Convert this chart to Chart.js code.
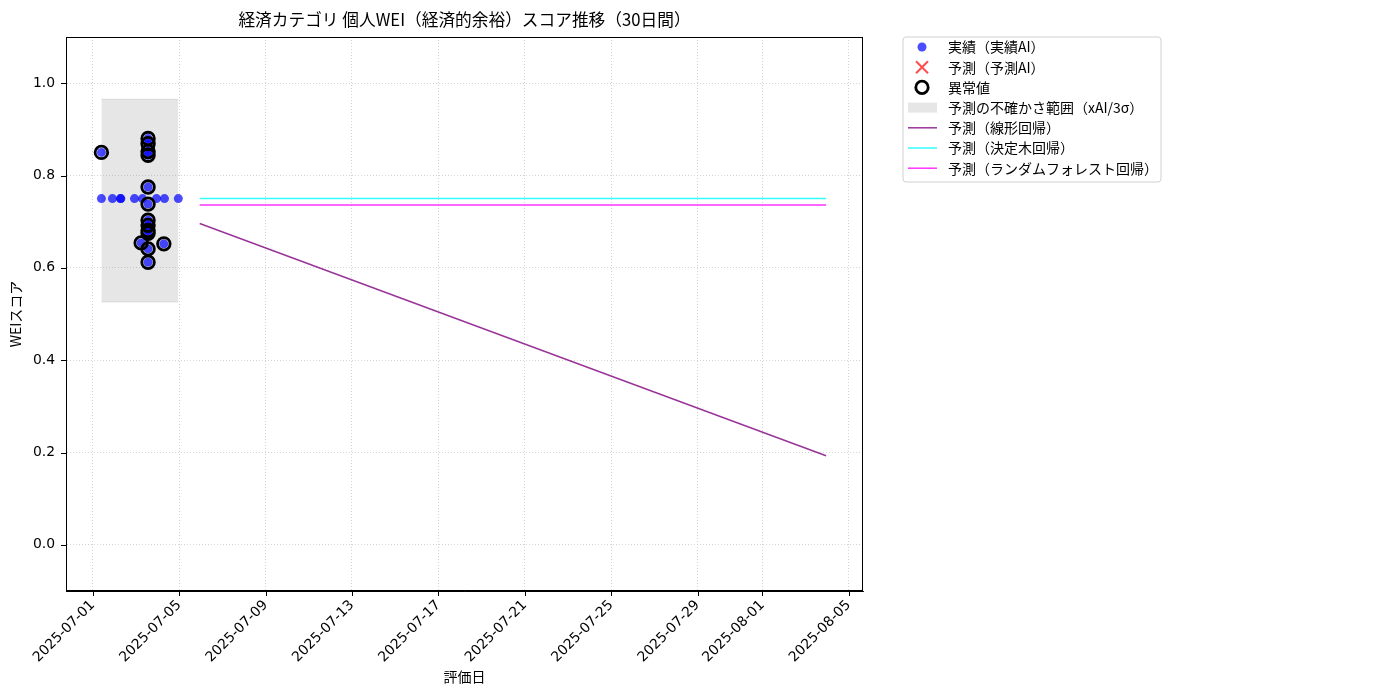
<!DOCTYPE html>
<html>
<head>
<meta charset="utf-8">
<script src="https://cdn.jsdelivr.net/npm/chart.js@4.4.0/dist/chart.umd.min.js"></script>
<style>
  html, body { margin: 0; padding: 0; background: #fff; }
</style>
</head>
<body>
<canvas id="wei-chart" width="1400" height="700"></canvas>
<script>
const FONT = '"Noto Sans CJK JP", "Noto Sans", sans-serif';
const TICK_FONT = '"DejaVu Sans", "Noto Sans CJK JP", sans-serif';

// x values are days counted from 2025-07-01 00:00
const baseDate = '2025-07-01';
const xTickLabels = ['2025-07-01', '2025-07-05', '2025-07-09', '2025-07-13', '2025-07-17',
                     '2025-07-21', '2025-07-25', '2025-07-29', '2025-08-01', '2025-08-05'];
const yTicks = [0.0, 0.2, 0.4, 0.6, 0.8, 1.0];

// 実績
const actualX = [0.40, 0.91, 1.28, 1.30, 1.93, 2.30, 2.95, 3.32, 3.96,
                 0.40, 2.56, 2.56, 2.56, 2.56, 2.56, 2.56, 2.56, 2.56, 2.56, 2.56, 2.24, 2.56, 3.29, 2.56];
const actualY = [0.75, 0.75, 0.75, 0.75, 0.75, 0.75, 0.75, 0.75, 0.75,
                 0.850, 0.880, 0.869, 0.852, 0.844, 0.775, 0.738, 0.703, 0.692, 0.681, 0.675, 0.654, 0.641, 0.652, 0.612];

// 異常値
const anomalyX = [0.40, 2.56, 2.56, 2.56, 2.56, 2.56, 2.56, 2.56, 2.56, 2.56, 2.56, 2.24, 2.56, 3.29, 2.56];
const anomalyY = [0.850, 0.880, 0.869, 0.852, 0.844, 0.775, 0.738, 0.703, 0.692, 0.681, 0.675, 0.654, 0.641, 0.652, 0.612];

// 予測AI (no points in this period)
const predX = [];
const predY = [];

// 不確かさ範囲
const bandX = [0.40, 3.96];
const bandUpper = [0.965, 0.965];
const bandLower = [0.526, 0.526];

// 予測ライン
const forecastX = [4.95, 33.95];
const linearY = [0.696, 0.193];
const treeY = [0.750, 0.750];
const forestY = [0.736, 0.736];

const dayOf = s => (Date.parse(s) - Date.parse(baseDate)) / 86400000;
const pts = (xs, ys) => xs.map((x, i) => ({ x: x, y: ys[i] }));

const legendItems = [
  { text: '実績（実績AI）', kind: 'dot', color: 'rgba(0,0,255,0.7)' },
  { text: '予測（予測AI）', kind: 'cross', color: 'rgba(255,0,0,0.7)' },
  { text: '異常値', kind: 'ring', color: '#000' },
  { text: '予測の不確かさ範囲（xAI/3σ）', kind: 'patch', color: 'rgba(128,128,128,0.2)' },
  { text: '予測（線形回帰）', kind: 'line', color: 'rgba(128,0,128,0.8)' },
  { text: '予測（決定木回帰）', kind: 'line', color: 'rgba(0,255,255,0.8)' },
  { text: '予測（ランダムフォレスト回帰）', kind: 'line', color: 'rgba(255,0,255,0.8)' }
];

const mplLook = {
  id: 'mplLook',
  afterDraw(chart) {
    const ctx = chart.ctx;
    const a = chart.chartArea;
    const xs = chart.scales.x, ys = chart.scales.y;
    ctx.save();
    // frame
    ctx.strokeStyle = '#000';
    ctx.lineWidth = 1;
    ctx.strokeRect(a.left + 0.5, a.top + 0.5, a.right - a.left - 1, a.bottom - a.top - 1);
    // tick marks
    ctx.beginPath();
    xs.ticks.forEach(t => {
      const px = Math.round(xs.getPixelForValue(t.value)) + 0.5;
      ctx.moveTo(px, a.bottom); ctx.lineTo(px, a.bottom + 5);
    });
    ys.ticks.forEach(t => {
      const py = Math.round(ys.getPixelForValue(t.value)) + 0.5;
      ctx.moveTo(a.left, py); ctx.lineTo(a.left - 5, py);
    });
    ctx.stroke();
    // title
    ctx.fillStyle = '#000';
    ctx.font = '16.7px ' + FONT;
    ctx.textAlign = 'center';
    ctx.textBaseline = 'middle';
    ctx.fillText('経済カテゴリ 個人WEI（経済的余裕）スコア推移（30日間）', (a.left + a.right) / 2, 20);
    // legend
    const lx = 903, ly = 37, lw = 258, lh = 145, r = 3;
    ctx.beginPath();
    ctx.moveTo(lx + r, ly);
    ctx.arcTo(lx + lw, ly, lx + lw, ly + lh, r);
    ctx.arcTo(lx + lw, ly + lh, lx, ly + lh, r);
    ctx.arcTo(lx, ly + lh, lx, ly, r);
    ctx.arcTo(lx, ly, lx + lw, ly, r);
    ctx.closePath();
    ctx.fillStyle = 'rgba(255,255,255,0.8)';
    ctx.fill();
    ctx.strokeStyle = '#d0d0d0';
    ctx.stroke();
    ctx.font = '14px ' + FONT;
    ctx.textAlign = 'left';
    legendItems.forEach((it, i) => {
      const cy = 47 + i * 20.2;
      const mx = 922;
      if (it.kind === 'dot') {
        ctx.beginPath(); ctx.arc(mx, cy, 4.5, 0, Math.PI * 2);
        ctx.fillStyle = it.color; ctx.fill();
      } else if (it.kind === 'cross') {
        ctx.beginPath();
        ctx.moveTo(mx - 6, cy - 6); ctx.lineTo(mx + 6, cy + 6);
        ctx.moveTo(mx + 6, cy - 6); ctx.lineTo(mx - 6, cy + 6);
        ctx.strokeStyle = it.color; ctx.lineWidth = 2; ctx.stroke();
      } else if (it.kind === 'ring') {
        ctx.beginPath(); ctx.arc(mx, cy, 6.2, 0, Math.PI * 2);
        ctx.strokeStyle = it.color; ctx.lineWidth = 2.8; ctx.stroke();
      } else if (it.kind === 'patch') {
        ctx.fillStyle = it.color; ctx.fillRect(908, cy - 5, 29, 10);
      } else {
        ctx.beginPath(); ctx.moveTo(908, cy); ctx.lineTo(937, cy);
        ctx.strokeStyle = it.color; ctx.lineWidth = 1.5; ctx.stroke();
      }
      ctx.fillStyle = '#000';
      ctx.fillText(it.text, 948, cy);
    });
    ctx.restore();
  }
};

new Chart(document.getElementById('wei-chart'), {
  type: 'scatter',
  data: {
    datasets: [
      {
        label: '異常値',
        data: pts(anomalyX, anomalyY),
        pointStyle: 'circle',
        pointRadius: 6.3,
        pointBorderWidth: 2.8,
        pointBackgroundColor: 'rgba(0,0,0,0)',
        pointBorderColor: '#000',
        order: 0
      },
      {
        label: '実績（実績AI）',
        data: pts(actualX, actualY),
        pointRadius: 4.5,
        pointBorderWidth: 0,
        pointBackgroundColor: 'rgba(0,0,255,0.7)',
        order: 1
      },
      {
        label: '予測（予測AI）',
        data: pts(predX, predY),
        pointStyle: 'crossRot',
        pointRadius: 6,
        pointBorderColor: 'rgba(255,0,0,0.7)',
        order: 1
      },
      {
        label: '予測（線形回帰）',
        data: pts(forecastX, linearY),
        showLine: true,
        borderColor: 'rgba(128,0,128,0.8)',
        borderWidth: 1.5,
        pointRadius: 0,
        order: 2
      },
      {
        label: '予測（決定木回帰）',
        data: pts(forecastX, treeY),
        showLine: true,
        borderColor: 'rgba(0,255,255,0.8)',
        borderWidth: 1.5,
        pointRadius: 0,
        order: 2
      },
      {
        label: '予測（ランダムフォレスト回帰）',
        data: pts(forecastX, forestY),
        showLine: true,
        borderColor: 'rgba(255,0,255,0.8)',
        borderWidth: 1.5,
        pointRadius: 0,
        order: 2
      },
      {
        label: 'band upper',
        data: pts(bandX, bandUpper),
        showLine: true,
        borderColor: 'rgba(128,128,128,0.2)',
        borderWidth: 1,
        pointRadius: 0,
        order: 3
      },
      {
        label: '予測の不確かさ範囲（xAI/3σ）',
        data: pts(bandX, bandLower),
        showLine: true,
        borderColor: 'rgba(128,128,128,0.2)',
        borderWidth: 1,
        backgroundColor: 'rgba(128,128,128,0.2)',
        fill: '-1',
        pointRadius: 0,
        order: 3
      }
    ]
  },
  plugins: [mplLook],
  options: {
    responsive: false,
    animation: false,
    devicePixelRatio: 1,
    layout: { padding: { left: 0, right: 537, top: 37, bottom: 12 } },
    plugins: {
      legend: { display: false },
      tooltip: { enabled: false },
      title: { display: false }
    },
    scales: {
      x: {
        type: 'linear',
        min: -1.24,
        max: 35.66,
        afterBuildTicks: s => { s.ticks = xTickLabels.map(l => ({ value: dayOf(l) })); },
        afterFit: s => { s.height = 97; },
        ticks: {
          callback: (v, i) => xTickLabels[i],
          minRotation: 45,
          maxRotation: 45,
          padding: 6,
          color: '#000',
          font: { family: TICK_FONT, size: 13.9 }
        },
        grid: { color: '#c8c8c8', lineWidth: 0.8, drawTicks: false },
        border: { color: '#000', width: 1, dash: [1, 2] },
        title: { display: true, text: '評価日', color: '#000', font: { family: FONT, size: 14 }, padding: { top: 0, bottom: 3 } }
      },
      y: {
        type: 'linear',
        min: -0.1,
        max: 1.1,
        afterBuildTicks: s => { s.ticks = yTicks.map(v => ({ value: v })); },
        afterFit: s => { s.width = 66; },
        ticks: {
          callback: v => v.toFixed(1),
          padding: 11,
          color: '#000',
          font: { family: TICK_FONT, size: 13.9 }
        },
        grid: { color: '#c8c8c8', lineWidth: 0.8, drawTicks: false },
        border: { color: '#000', width: 1, dash: [1, 2] },
        title: { display: true, text: 'WEIスコア', color: '#000', font: { family: FONT, size: 14 }, padding: { top: 7, bottom: 0 } }
      }
    }
  }
});
</script>
</body>
</html>
